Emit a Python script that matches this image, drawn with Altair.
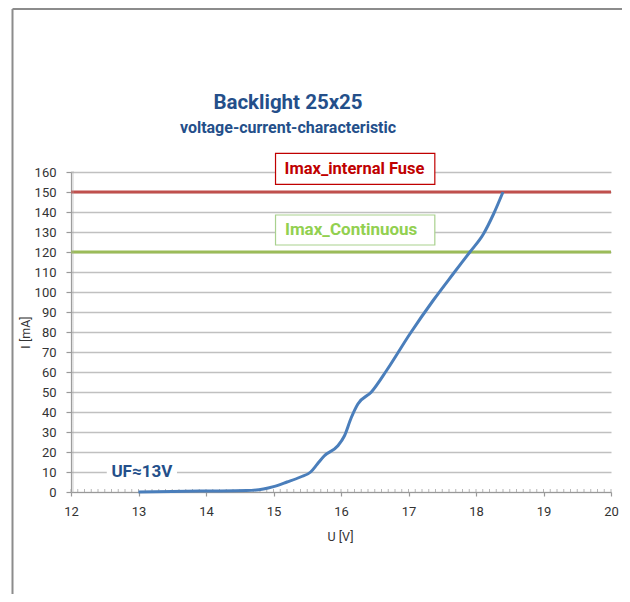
import altair as alt
import pandas as pd
import numpy as np

# Curve data (U [V], I [mA])
u_vals = [13.0, 13.5, 14.0, 14.6, 14.85, 15.0, 15.2, 15.4, 15.55, 15.65, 15.75, 15.95,
          16.05, 16.15, 16.25, 16.45, 16.68, 17.02, 17.37, 17.66, 17.91, 18.11, 18.26, 18.40]
i_vals = [0.0, 0.3, 0.5, 0.7, 1.5, 2.7, 5.0, 7.5, 10.0, 14.0, 18.0, 23.0,
          28.0, 37.0, 44.0, 50.0, 61.0, 79.0, 96.0, 109.0, 120.0, 129.0, 139.0, 150.0]

x_ticks = [12, 13, 14, 15, 16, 17, 18, 19, 20]
y_ticks = list(range(0, 161, 10))

fuse_level = 150
cont_level = 120

title_text = "Backlight 25x25"
subtitle_text = "voltage-current-characteristic"
fuse_label = "Imax_internal Fuse"
cont_label = "Imax_Continuous"
uf_label = "UF≈13V"

W, H = 540, 320
AXF = "Roboto, Liberation Sans, sans-serif"
BOLD = "Roboto, Liberation Sans, sans-serif"
BLUE = "#244f8a"

curve = pd.DataFrame({"U": u_vals, "I": i_vals})
xs = alt.Scale(domain=[12, 20], nice=False, zero=False)
ys = alt.Scale(domain=[0, 160], nice=False)
AXX = alt.Axis(values=x_ticks, format="d", grid=False, tickSize=4, labelPadding=9,
               labelFlush=False, titleX=W / 2 - 1, titleY=44, titleBaseline="middle")
AXY = alt.Axis(values=y_ticks, format="d", grid=True, tickSize=5, labelPadding=10,
               labelFlush=False, titleX=-46, titleY=H / 2, titleBaseline="middle")
XT = "U [V]"
YT = "I [mA]"

line = alt.Chart(curve).mark_line(color="#4a7ebb", strokeWidth=3, interpolate="monotone").encode(
    x=alt.X("U:Q", scale=xs, axis=AXX, title=XT), y=alt.Y("I:Q", scale=ys, axis=AXY, title=YT))

fuse = alt.Chart(pd.DataFrame({"I": [fuse_level]})).mark_rule(color="#c0504d", strokeWidth=3).encode(
    y=alt.Y("I:Q", scale=ys, axis=AXY, title=YT))
cont = alt.Chart(pd.DataFrame({"I": [cont_level]})).mark_rule(color="#9bbb59", strokeWidth=3).encode(
    y=alt.Y("I:Q", scale=ys, axis=AXY, title=YT))

# minor ticks
xminor = pd.DataFrame({"U": np.round(np.arange(12.0, 20.01, 0.1), 2)})
yminor = pd.DataFrame({"I": np.arange(0, 161, 1)})
xm = alt.Chart(xminor).mark_tick(color="#999999", size=3, thickness=1, orient="vertical").encode(
    x=alt.X("U:Q", scale=xs, axis=AXX, title=XT), y=alt.value(H - 1.5))
ym = alt.Chart(yminor).mark_tick(color="#aaaaaa", size=3, thickness=0.8, orient="horizontal").encode(
    y=alt.Y("I:Q", scale=ys, axis=AXY, title=YT), x=alt.value(1.5))

# annotation boxes
def box(x0, x1, y0, y1, stroke):
    return alt.Chart(pd.DataFrame({"U": [x0], "U2": [x1], "I": [y0], "I2": [y1]})).mark_rect(
        fill="white", stroke=stroke if stroke else "white", strokeWidth=1.2 if stroke else 0).encode(
        x=alt.X("U:Q", scale=xs, axis=AXX, title=XT), x2="U2:Q",
        y=alt.Y("I:Q", scale=ys, axis=AXY, title=YT), y2="I2:Q")

fuse_box = box(15.03, 17.39, 153.8, 169.3, "#c00000")
cont_box = box(15.03, 17.39, 123.5, 138.5, "#a9d18e")
uf_box = box(12.53, 13.57, 6.0, 14.0, None)

def label(txt, x, y, color, size):
    return alt.Chart(pd.DataFrame({"t": [txt], "U": [x], "I": [y]})).mark_text(
        font=BOLD, fontWeight="bold", fontSize=size, color=color, baseline="middle").encode(
        x=alt.X("U:Q", scale=xs, axis=AXX, title=XT), y=alt.Y("I:Q", scale=ys, axis=AXY, title=YT),
        text="t:N")

fuse_t = label(fuse_label, 16.2, 161.5, "#c00000", 16.5)
cont_t = label(cont_label, 16.15, 131.0, "#92d050", 17)
uf_t = label(uf_label, 13.05, 10.0, BLUE, 17)

def title_mark(txt, size, yy):
    return alt.Chart(pd.DataFrame({"t": [txt]})).mark_text(
        font=BOLD, fontWeight="bold", color=BLUE, baseline="middle", fontSize=size).encode(
        x=alt.value(217), y=alt.value(yy), text="t:N")

t1 = title_mark(title_text, 20.5, -69)
t2 = title_mark(subtitle_text, 16, -44)

# outer frame
frame_top = alt.Chart(pd.DataFrame({"a": [0]})).mark_rule(color="#8c8c8c", strokeWidth=2).encode(
    x=alt.value(-58.5), x2=alt.value(W + 20), y=alt.value(-163))
frame_left = alt.Chart(pd.DataFrame({"a": [0]})).mark_rule(color="#8c8c8c", strokeWidth=2).encode(
    x=alt.value(-58.5), y=alt.value(-163), y2=alt.value(H + 120))

chart = alt.layer(
    fuse, cont, xm, ym, line, fuse_box, cont_box, uf_box, fuse_t, cont_t, uf_t,
    t1, t2, frame_top, frame_left
).properties(
    width=W, height=H,
    autosize=alt.AutoSizeParams(type="none"),
    padding={"left": 63, "top": 164, "right": 11, "bottom": 102},
    background="white",
).configure_view(stroke=None).configure_axis(
    domainColor="#999999", domainWidth=1.2, tickColor="#999999", tickWidth=1.2,
    gridColor="#c0c0c0", gridWidth=1.5,
    labelFont=AXF, labelFontSize=13, labelColor="#333333",
    titleFont=AXF, titleFontSize=12.5, titleColor="#333333", titleFontWeight="normal",
)

chart.save("out.html", embed_options={"renderer": "svg", "actions": False})
